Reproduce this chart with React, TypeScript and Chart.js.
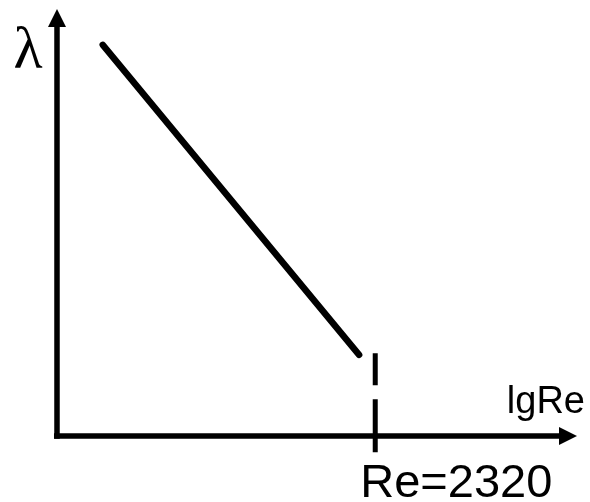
import React, { useEffect, useRef } from "react";
import { Chart, registerables } from "chart.js";

Chart.register(...registerables);

// Laminar friction-factor line (arbitrary axis units, both axes 0..10)
const laminarX = [0.88, 5.81];
const laminarY = [9.16, 1.9];

// Critical Reynolds number marker
const criticalX = [6.12, 6.12];
const criticalY = [1.94, -0.38];

// Axis extents (arrow tips) and labels
const axisMaxX = 10;
const axisMaxY = 10;
const yAxisLabel = "λ";
const xAxisLabel = "lgRe";
const criticalLabel = "Re=2320";

const axesPlugin = {
  id: "arrowAxes",
  beforeDatasetsDraw(chart: any) {
    const { ctx, scales } = chart;
    const ox = scales.x.getPixelForValue(0);
    const oy = scales.y.getPixelForValue(0);
    const tipX = scales.x.getPixelForValue(axisMaxX);
    const tipY = scales.y.getPixelForValue(axisMaxY);
    const head = 18;
    const half = 9;
    ctx.save();
    ctx.strokeStyle = "#000";
    ctx.fillStyle = "#000";
    ctx.lineWidth = 5.5;
    ctx.lineCap = "butt";
    // x axis
    ctx.beginPath();
    ctx.moveTo(ox - 3, oy);
    ctx.lineTo(tipX - head + 1, oy);
    ctx.stroke();
    ctx.beginPath();
    ctx.moveTo(tipX, oy);
    ctx.lineTo(tipX - head, oy - half);
    ctx.lineTo(tipX - head, oy + half);
    ctx.closePath();
    ctx.fill();
    // y axis
    ctx.beginPath();
    ctx.moveTo(ox, oy + 2.75);
    ctx.lineTo(ox, tipY + head - 1);
    ctx.stroke();
    ctx.beginPath();
    ctx.moveTo(ox, tipY);
    ctx.lineTo(ox - half, tipY + head);
    ctx.lineTo(ox + half, tipY + head);
    ctx.closePath();
    ctx.fill();

    // labels
    ctx.textBaseline = "alphabetic";
    ctx.textAlign = "center";
    ctx.font = '60px "Liberation Serif", "Times New Roman", serif';
    ctx.fillText(yAxisLabel, ox - 29, tipY + 59);

    ctx.textAlign = "right";
    ctx.font = '38px "Liberation Sans", Arial, sans-serif';
    ctx.fillText(xAxisLabel, tipX + 8, oy - 23);

    ctx.textAlign = "left";
    ctx.font = '47px "Liberation Sans", Arial, sans-serif';
    const cx = scales.x.getPixelForValue(criticalX[0]);
    ctx.fillText(criticalLabel, cx - 15, oy + 61);
    ctx.restore();
  },
};

export default function App() {
  const canvasRef = useRef<HTMLCanvasElement | null>(null);

  useEffect(() => {
    if (!canvasRef.current) return;
    const chart = new Chart(canvasRef.current, {
      type: "line",
      data: {
        datasets: [
          {
            data: laminarX.map((x, i) => ({ x, y: laminarY[i] })),
            borderColor: "#000",
            borderWidth: 6.5,
            borderCapStyle: "round",
            pointRadius: 0,
            fill: false,
          },
          {
            data: criticalX.map((x, i) => ({ x, y: criticalY[i] })),
            borderColor: "#000",
            borderWidth: 5,
            borderCapStyle: "butt",
            borderDash: [32, 14, 60],
            pointRadius: 0,
            fill: false,
          },
        ],
      },
      options: {
        animation: false,
        responsive: false,
        layout: { padding: 0 },
        plugins: { legend: { display: false }, tooltip: { enabled: false } },
        scales: {
          x: { type: "linear", min: -1.096, max: 10.25, display: false },
          y: { type: "linear", min: -1.546, max: 10.21, display: false },
        },
      },
      plugins: [axesPlugin],
    });
    return () => chart.destroy();
  }, []);

  return (
    <div style={{ position: "absolute", left: 0, top: 0, width: 590, height: 502, background: "#fff" }}>
      <canvas ref={canvasRef} width={590} height={502} style={{ display: "block" }} />
    </div>
  );
}
